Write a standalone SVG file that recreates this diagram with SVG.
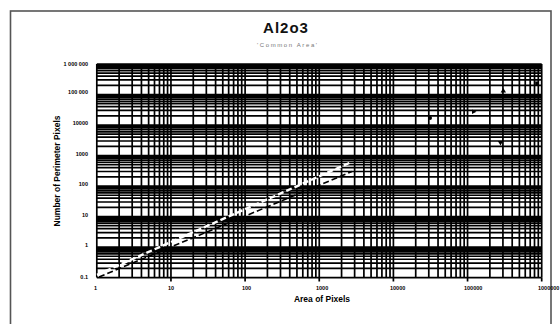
<svg xmlns="http://www.w3.org/2000/svg" width="560" height="324" viewBox="0 0 560 324">
<style>
.grid{stroke:#000;stroke-width:1.7;fill:none}
.lbl{font-family:"Liberation Sans",Arial,sans-serif;font-size:5.5px;font-weight:bold;fill:#000}
.ax{font-family:"Liberation Sans",Arial,sans-serif;font-size:8.5px;font-weight:bold;fill:#000}
.mk{fill:#000}
</style>
<rect x="0" y="0" width="560" height="324" fill="#fff"/>
<rect id="frame" x="10.5" y="11" width="540.5" height="330" fill="none" stroke="#555" stroke-width="1.6"/>
<g id="title">
<text x="286" y="33" text-anchor="middle" font-family="Liberation Sans,Arial,sans-serif" font-size="15" font-weight="bold" letter-spacing="1" fill="#111">Al2o3</text>
<text x="287" y="47" text-anchor="middle" font-family="Liberation Sans,Arial,sans-serif" font-size="6" fill="#777" textLength="60">'Common Area'</text>
</g>
<g id="grid">
<path class="grid" d="M96.8 64V277.6M119.12 64V277.6M132.18 64V277.6M141.44 64V277.6M148.63 64V277.6M154.5 64V277.6M159.46 64V277.6M163.76 64V277.6M167.56 64V277.6
M170.95 64V277.6M193.27 64V277.6M206.33 64V277.6M215.59 64V277.6M222.78 64V277.6M228.65 64V277.6M233.61 64V277.6M237.91 64V277.6M241.71 64V277.6
M245.1 64V277.6M267.42 64V277.6M280.48 64V277.6M289.74 64V277.6M296.93 64V277.6M302.8 64V277.6M307.76 64V277.6M312.06 64V277.6M315.86 64V277.6
M319.25 64V277.6M341.57 64V277.6M354.63 64V277.6M363.89 64V277.6M371.08 64V277.6M376.95 64V277.6M381.91 64V277.6M386.21 64V277.6M390.01 64V277.6
M393.4 64V277.6M415.72 64V277.6M428.78 64V277.6M438.04 64V277.6M445.23 64V277.6M451.1 64V277.6M456.06 64V277.6M460.36 64V277.6M464.16 64V277.6
M467.55 64V277.6M489.87 64V277.6M502.93 64V277.6M512.19 64V277.6M519.38 64V277.6M525.25 64V277.6M530.21 64V277.6M534.51 64V277.6M538.31 64V277.6
M541.7 64V277.6"/>
<path class="grid" d="M96.8 277.6H541.7M96.8 268.41H541.7M96.8 263.04H541.7M96.8 259.23H541.7M96.8 256.27H541.7M96.8 253.86H541.7M96.8 251.81H541.7M96.8 250.04H541.7M96.8 248.48H541.7
M96.8 247.09H541.7M96.8 237.9H541.7M96.8 232.53H541.7M96.8 228.72H541.7M96.8 225.76H541.7M96.8 223.35H541.7M96.8 221.3H541.7M96.8 219.53H541.7M96.8 217.97H541.7
M96.8 216.57H541.7M96.8 207.38H541.7M96.8 202.01H541.7M96.8 198.2H541.7M96.8 195.24H541.7M96.8 192.83H541.7M96.8 190.78H541.7M96.8 189.01H541.7M96.8 187.45H541.7
M96.8 186.06H541.7M96.8 176.87H541.7M96.8 171.5H541.7M96.8 167.69H541.7M96.8 164.73H541.7M96.8 162.32H541.7M96.8 160.27H541.7M96.8 158.5H541.7M96.8 156.94H541.7
M96.8 155.54H541.7M96.8 146.35H541.7M96.8 140.98H541.7M96.8 137.17H541.7M96.8 134.21H541.7M96.8 131.8H541.7M96.8 129.75H541.7M96.8 127.98H541.7M96.8 126.42H541.7
M96.8 125.03H541.7M96.8 115.84H541.7M96.8 110.47H541.7M96.8 106.66H541.7M96.8 103.7H541.7M96.8 101.29H541.7M96.8 99.24H541.7M96.8 97.47H541.7M96.8 95.91H541.7
M96.8 94.51H541.7M96.8 85.32H541.7M96.8 79.95H541.7M96.8 76.14H541.7M96.8 73.18H541.7M96.8 70.77H541.7M96.8 68.72H541.7M96.8 66.95H541.7M96.8 65.39H541.7
M96.8 64H541.7"/>
<path class="grid" d="M170.95 277.6v4M245.1 277.6v4M319.25 277.6v4M393.4 277.6v4M467.55 277.6v4M541.7 277.6v4"/>
</g>
<g id="y-labels" class="lbl" text-anchor="end">
<text x="88" y="65.5">1 000 000</text>
<text x="88" y="94">100 000</text>
<text x="88" y="125">10000</text>
<text x="88" y="156">1000</text>
<text x="88" y="186">100</text>
<text x="88" y="217">10</text>
<text x="88" y="247">1</text>
<text x="88" y="278.5">0.1</text>
</g>
<g id="x-labels" class="lbl">
<text x="94" y="290">1</text>
<text x="168" y="290">10</text>
<text x="242" y="290">100</text>
<text x="316" y="290">1000</text>
<text x="390" y="290">10000</text>
<text x="464" y="290">100000</text>
<text x="538" y="290">1000000</text>
</g>
<g id="axis-titles">
<text class="ax" x="322" y="302" text-anchor="middle">Area of Pixels</text>
<text class="ax" x="0" y="0" text-anchor="middle" transform="translate(60 171) rotate(-90)">Number of Perimeter Pixels</text>
</g>
<g id="connectors">
<path d="M97 274.8L352 161.8" fill="none" stroke="#fff" stroke-width="2.4" stroke-dasharray="6 3"/>
<path d="M99 277L352 171.5" fill="none" stroke="#000" stroke-width="1.6" stroke-dasharray="6 3"/>
</g>
<g id="points">
<circle class="mk" cx="430" cy="118" r="2"/>
<path class="mk" d="M472 109.5L476.5 111.8L472 114.1Z"/>
<path class="mk" d="M500.6 92.5L503.3 88L506 92.5Z"/>
<path class="mk" d="M497.8 141L503.2 141L500.5 145.5Z"/>
<rect class="mk" x="535.2" y="81.5" width="3.5" height="3.5"/>
</g>
</svg>
